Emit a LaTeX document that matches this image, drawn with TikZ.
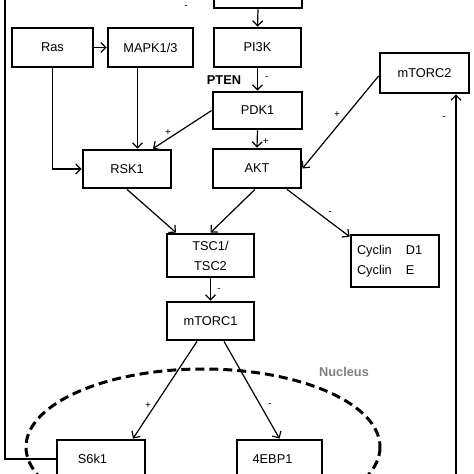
\documentclass[tikz,border=0pt]{standalone}
\usepackage{fontspec}
\setmainfont{Liberation Sans}
\usetikzlibrary{arrows.meta}
\tikzset{
  box/.style={draw, line width=2.8pt, minimum height=38pt, minimum width=88pt, inner sep=3pt,
    font=\fontsize{12.8}{20}\selectfont},
  arr/.style={line width=1.2pt, -{Straight Barb[length=5pt,width=10pt,line width=1.2pt]}},
  plain/.style={line width=1.2pt},
  sign/.style={font=\fontsize{10}{12}\selectfont, inner sep=0pt},
  nucleus/.style={draw, line width=3pt, dash pattern=on 9pt off 5pt},
}
\begin{document}
\begin{tikzpicture}[x=1pt,y=-1pt]
\useasboundingbox (0,0) rectangle (474,474);
\clip (0,0) rectangle (474,474);
% boxes
\node[box, minimum height=38pt] (top) at (258,-11) {};
\node[box, minimum width=81pt, minimum height=39pt] (ras) at (52.5,47.5) {Ras};
\node[box, minimum width=85pt, minimum height=39pt] (mapk) at (150.5,47.5) {MAPK1/3};
\node[box, minimum width=87pt, minimum height=39pt] (pi3k) at (257.5,47.5) {PI3K};
\node[box, minimum width=89pt, minimum height=40pt] (mtorc2) at (424.5,73) {mTORC2};
\node[box, minimum width=89pt, minimum height=37pt] (pdk1) at (257.5,110.5) {PDK1};
\node[box, minimum width=88pt, minimum height=38pt] (rsk1) at (127,169) {RSK1};
\node[box, minimum width=88pt, minimum height=39pt] (akt) at (257,168.5) {AKT};
\node[box, minimum width=87pt, minimum height=43pt, align=center] (tsc) at (210.5,255.5) {TSC1/\\TSC2};
\node[box, minimum width=88pt, minimum height=52pt, align=left, text width=76pt] (cyclin) at (395,261) {Cyclin\hspace{14pt}D1\\Cyclin\hspace{14pt}E};
\node[box, minimum width=87pt, minimum height=38pt] (mtorc1) at (210.5,321) {mTORC1};
\node[box, minimum width=88pt, minimum height=38pt] (s6k1) at (101,459) {S6k1\hspace*{17pt}};
\node[box, minimum width=85pt, minimum height=38pt] (ebp) at (279.5,459) {4EBP1\hspace*{14pt}};
% labels
\node[font=\bfseries\fontsize{12.8}{15}\selectfont, inner sep=0pt] (pten) at (224,80) {PTEN};
\node[font=\bfseries\fontsize{12.8}{15}\selectfont, text=black!50, inner sep=0pt] (nuc) at (344,372) {Nucleus};
% nucleus
\draw[nucleus] (203,447) ellipse [x radius=177, y radius=78];
% connectors
\draw[arr] (top.south) -- (pi3k.north);
\draw[arr] (ras.east) -- (mapk.west);
\draw[arr] (pi3k.south) -- node[sign, right, xshift=7pt, yshift=2pt] (l1) {-} (pdk1.north);
\draw[arr] (pdk1.south) -- node[sign, right, xshift=5pt, yshift=-3pt] (l2) {+} (akt.north);
\draw[arr] (ras.south) |- (rsk1.west);
\draw[arr] ([xshift=-13pt]mapk.south) -- ([xshift=-13pt]mapk.south |- rsk1.north);
\draw[arr] (pdk1.west) -- ([xshift=26pt]rsk1.north);
\node[sign] (l3) at (168,133) {+};
\draw[arr] ([yshift=-3pt]mtorc2.west) -- (akt.east);
\node[sign] (l4) at (337,115) {+};
\draw[arr] (rsk1.south) -- ([xshift=-34.5pt]tsc.north);
\draw[arr] ([xshift=-2pt]akt.south) -- (tsc.north);
\draw[arr] ([xshift=30pt]akt.south) -- ([yshift=-3pt]cyclin.north west);
\node[sign] (l5) at (330,213) {-};
\draw[arr] (tsc.south) -- (mtorc1.north);
\node[sign] (l6) at (219,290) {-};
\draw[arr] ([xshift=-13.5pt]mtorc1.south) -- ([xshift=32pt]s6k1.north);
\node[sign] (l7) at (148,406) {+};
\draw[arr] ([xshift=13.5pt]mtorc1.south) -- (ebp.north);
\node[sign] (l8) at (270,405) {-};
% feedback loops
\coordinate (fbtop) at (5,-20);
\draw[plain] (s6k1.west) -| (fbtop);
\node[sign] (l9) at (186,7) {-};
\coordinate (fbbot) at (456,500);
\draw[arr] (fbbot) -- (fbbot |- mtorc2.south);
\node[sign] (l10) at (444,118) {-};
\end{tikzpicture}
\end{document}
